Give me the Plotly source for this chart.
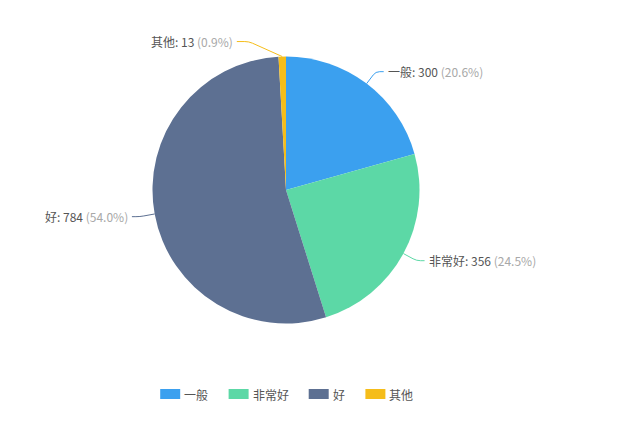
import math
import plotly.graph_objects as go

# ---- data ----
categories = ["一般", "非常好", "好", "其他"]
values = [300, 356, 784, 13]
colors = ["#3ba0ef", "#5cd8a6", "#5d7092", "#f5bd1a"]

# ---- layout / style constants (page pixels) ----
PAGE_W, PAGE_H = 635, 428
OFF = 8                      # browser body margin
W, H = PAGE_W - 2 * OFF, PAGE_H - 2 * OFF
CX, CY, R = 286, 190, 133.5
LEN1 = 15          # radial part of leader line
LEN2 = 8           # horizontal part of leader line
BEND_SHIFT = [0, 0, 0, -33]   # extra horizontal shift of the bend (label layout)
FONT = "Noto Sans CJK SC, Noto Sans, sans-serif"
DARK, GREY = "#555555", "#a8a8a8"


def px(x):
    return (x - OFF) / W


def py(y):
    return 1 - (y - OFF) / H


total = sum(values)
fig = go.Figure()
fig.add_trace(go.Pie(
    labels=categories, values=values, sort=False, direction="clockwise", rotation=0,
    marker=dict(colors=colors, line=dict(width=0)),
    textinfo="none", hoverinfo="skip", showlegend=False,
    domain=dict(x=[px(CX - R), px(CX + R)], y=[py(CY + R), py(CY - R)]),
))

shapes, annotations = [], []
cum = 0
for i, (cat, v, col) in enumerate(zip(categories, values, colors)):
    mid = (cum + v / 2) / total * 2 * math.pi
    cum += v
    sx, sy = math.sin(mid), -math.cos(mid)
    p0 = (CX + R * sx, CY + R * sy)
    p1 = (CX + (R + LEN1) * sx + BEND_SHIFT[i], CY + (R + LEN1) * sy)
    side = 1 if sx >= 0 else -1
    p2 = (p1[0] + side * (LEN2 + (4 if BEND_SHIFT[i] else 0)), p1[1])
    dx0, dy0 = p0[0] - p1[0], p0[1] - p1[1]
    d0 = math.hypot(dx0, dy0)
    k = min(4, d0 / 2)
    q0 = (p1[0] + dx0 / d0 * k, p1[1] + dy0 / d0 * k)
    q1 = (p1[0] + side * 4, p1[1])
    path = (f"M {px(p0[0])},{py(p0[1])} L {px(q0[0])},{py(q0[1])} "
            f"Q {px(p1[0])},{py(p1[1])} {px(q1[0])},{py(q1[1])} "
            f"L {px(p2[0])},{py(p2[1])}")
    shapes.append(dict(type="path", path=path, xref="paper", yref="paper",
                       line=dict(color=col, width=1)))
    pct = v / total * 100
    txt = f"{cat}: {v} <span style='color:{GREY}'>({pct:.1f}%)</span>"
    annotations.append(dict(
        x=px(p2[0] + side * 3), y=py(p2[1]), xref="paper", yref="paper",
        text=txt, showarrow=False, xanchor="left" if side > 0 else "right",
        yanchor="middle", borderpad=0, font=dict(family=FONT, size=12, color=DARK),
    ))

# ---- custom legend ----
RW, RH, TGAP, IGAP, CW = 20, 10, 3, 22, 11.7
LEG_Y = 394
widths = [RW + TGAP + CW * len(c) for c in categories]
total_w = sum(widths) + IGAP * (len(categories) - 1)
x = CX - total_w / 2
for cat, col, w in zip(categories, colors, widths):
    shapes.append(dict(type="rect", xref="paper", yref="paper",
                       x0=px(x), x1=px(x + RW), y0=py(LEG_Y + RH / 2), y1=py(LEG_Y - RH / 2),
                       fillcolor=col, line=dict(width=0)))
    annotations.append(dict(x=px(x + RW + TGAP), y=py(LEG_Y), xref="paper", yref="paper",
                            text=cat, showarrow=False, xanchor="left", yanchor="middle",
                            borderpad=0, font=dict(family=FONT, size=12, color=DARK)))
    x += w + IGAP

fig.update_layout(
    width=W, height=H, margin=dict(l=0, r=0, t=0, b=0),
    paper_bgcolor="white", plot_bgcolor="white",
    shapes=shapes, annotations=annotations, showlegend=False,
)
fig.write_html("out.html")
